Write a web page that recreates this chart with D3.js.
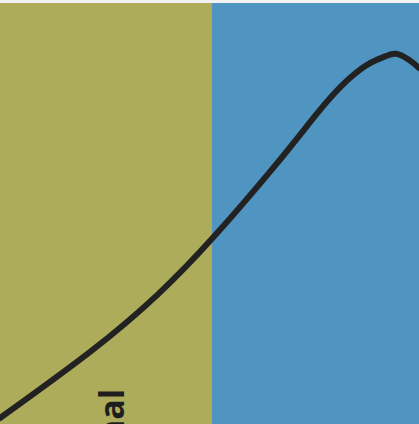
<!DOCTYPE html>
<html>
<head>
<meta charset="utf-8">
<script src="https://cdn.jsdelivr.net/npm/d3@7"></script>
<style>
  html, body { margin: 0; padding: 0; background: #f2f2f2; overflow: hidden; }
  svg { display: block; }
</style>
</head>
<body>
<div id="chart"></div>
<script>
// regions along x (domain units)
const regions = [
    { name: "left", from: 0, to: 5.06, color: "#adac5b" },
    { name: "right", from: 5.06, to: 10, color: "#5095c2" }
];

// curve sample values
const curveX = [0, 2.15, 3.75, 5.08, 6.52, 7.40, 7.88, 8.35, 8.83, 9.19, 9.45, 9.74, 10];
const curveY = [0.014, 0.170, 0.304, 0.439, 0.604, 0.712, 0.769, 0.816, 0.851, 0.867, 0.873, 0.860, 0.840];

const labels = [{ text: "Normal", x: 2.96, y: 0.083 }];

const width = 419, height = 424, topGap = 3;

const svg = d3.select("#chart").append("svg")
    .attr("width", width)
    .attr("height", height);

const x = d3.scaleLinear().domain([0, 10]).range([0, width]);
const y = d3.scaleLinear().domain([0, 1]).range([height, 0]);

// background bands
svg.selectAll("rect.region")
    .data(regions)
    .join("rect")
    .attr("class", "region")
    .attr("x", d => x(d.from))
    .attr("y", topGap)
    .attr("width", d => x(d.to) - x(d.from))
    .attr("height", height - topGap)
    .attr("fill", d => d.color);

// labels, rotated
svg.selectAll("text.label")
    .data(labels)
    .join("text")
    .attr("class", "label")
    .attr("transform", d => `translate(${x(d.x)},${y(d.y)}) rotate(-90)`)
    .attr("text-anchor", "end")
    .attr("font-family", "'Open Sans', sans-serif")
    .attr("font-weight", "bold")
    .attr("font-size", 34)
    .attr("fill", "#1e1e1e")
    .text(d => d.text);

// the curve
const points = curveX.map((v, i) => [v, curveY[i]]);
const line = d3.line()
    .x(d => x(d[0]))
    .y(d => y(d[1]))
    .curve(d3.curveNatural);

svg.append("path")
    .datum(points)
    .attr("d", line)
    .attr("fill", "none")
    .attr("stroke", "#222")
    .attr("stroke-width", 6)
    .attr("stroke-linecap", "round");
</script>
</body>
</html>
